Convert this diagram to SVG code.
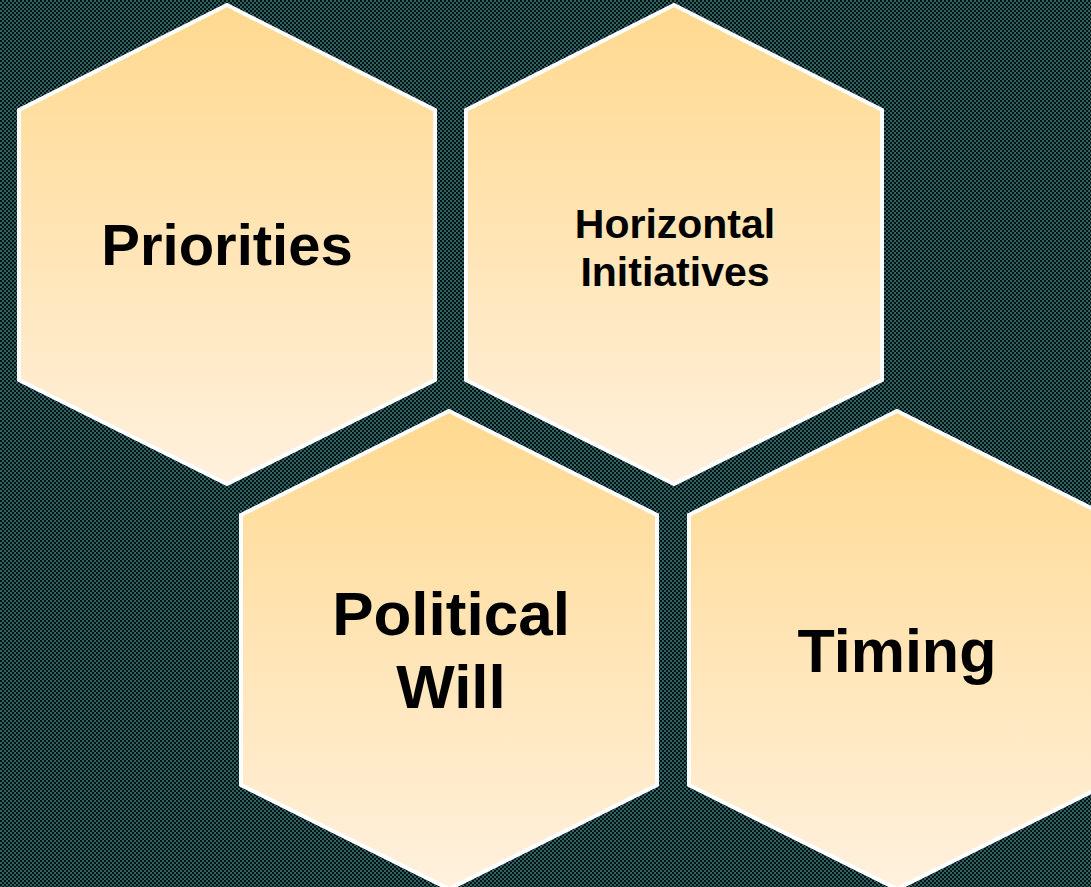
<svg xmlns="http://www.w3.org/2000/svg" width="1091" height="887" viewBox="0 0 1091 887">
  <defs>
    <pattern id="bg" patternUnits="userSpaceOnUse" width="4" height="4">
      <rect x="0" y="0" width="4" height="4" fill="#2f6263" shape-rendering="crispEdges"/>
      <rect x="0" y="0" width="2" height="2" fill="#081212" shape-rendering="crispEdges"/>
      <rect x="2" y="2" width="2" height="2" fill="#081212" shape-rendering="crispEdges"/>
    </pattern>
    <linearGradient id="hexfill" x1="0" y1="0" x2="0" y2="1">
      <stop offset="0" stop-color="#ffd98f"/>
      <stop offset="1" stop-color="#fff1de"/>
    </linearGradient>
  </defs>
  <style>
    .hex { fill: url(#hexfill); stroke: #ffffff; stroke-width: 4; stroke-linejoin: miter; }
    .lbl { font-family: "Liberation Sans", Arial, sans-serif; font-weight: bold; fill: #000000; text-anchor: middle; }
  </style>
  <rect x="0" y="0" width="1091" height="887" fill="url(#bg)"/>
  <g id="node-priorities">
    <polygon class="hex" points="227,5 435,110 435,380 227,484 19,380 19,110"/>
    <text class="lbl" x="227" y="265" font-size="58">Priorities</text>
  </g>
  <g id="node-horizontal">
    <polygon class="hex" points="674,5 882,110 882,380 674,484 466,380 466,110"/>
    <text class="lbl" x="675" y="238" font-size="41">Horizontal</text>
    <text class="lbl" x="675" y="286" font-size="41">Initiatives</text>
  </g>
  <g id="node-political">
    <polygon class="hex" points="449,411 657,515 657,785 449,889 241,785 241,515"/>
    <text class="lbl" x="451" y="635" font-size="62">Political</text>
    <text class="lbl" x="451" y="708" font-size="62">Will</text>
  </g>
  <g id="node-timing">
    <polygon class="hex" points="897,411 1105,515 1105,785 897,889 689,785 689,515"/>
    <text class="lbl" x="897" y="672" font-size="61">Timing</text>
  </g>
  <g id="connectors"></g>
</svg>
